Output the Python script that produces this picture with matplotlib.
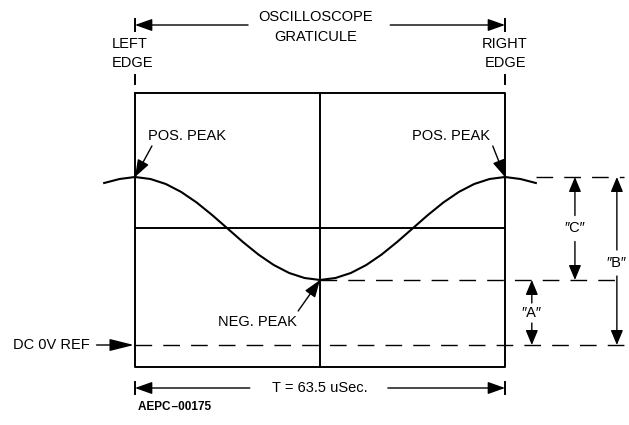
import matplotlib
matplotlib.use("Agg")
import matplotlib.pyplot as plt

plt.rcParams["font.family"] = ["Liberation Sans", "DejaVu Sans"]

# ---- data (time in uSec, level in volts-ish units above DC 0V ref) ----
period_us = 63.5
v_dc_ref = 0.0
v_neg_peak = 1.30   # "A"
v_pos_peak = 3.36   # "B"
grat_top = 5.04
grat_bottom = -0.44
grat_mid = 2.34

# waveform samples
times = [-5.29, -2.65, 0.0, 2.65, 5.29, 7.94, 10.58, 13.23, 15.88, 18.52, 21.17,
         23.81, 26.46, 29.10, 31.75, 34.40, 37.04, 39.69, 42.33, 44.98, 47.63,
         50.27, 52.92, 55.56, 58.21, 60.85, 63.5, 66.15, 68.79]
volts = [3.24, 3.32, 3.36, 3.32, 3.22, 3.06, 2.85, 2.60, 2.33, 2.06, 1.81,
         1.60, 1.44, 1.34, 1.30, 1.34, 1.44, 1.60, 1.81, 2.06, 2.33,
         2.60, 2.85, 3.06, 3.22, 3.32, 3.36, 3.32, 3.24]

fig = plt.figure(figsize=(6.29, 4.25), dpi=100)
ax = fig.add_axes([0, 0, 1, 1])
ax.set_xlim(-23.17, 84.78)
ax.set_ylim(-1.6, 6.9)
ax.axis("off")

K = "black"
FS = 10.5

# graticule box + center lines
t_left, t_mid, t_right = 0.0, period_us / 2, period_us
ax.plot([t_left, t_right, t_right, t_left, t_left],
        [grat_top, grat_top, grat_bottom, grat_bottom, grat_top], color=K, lw=1.4)
ax.plot([t_mid, t_mid], [grat_bottom, grat_top], color=K, lw=1.4)
ax.plot([t_left, t_right], [grat_mid, grat_mid], color=K, lw=1.4)

# trace
ax.plot(times, volts, color=K, lw=1.5)

# dashed reference lines
dash = dict(color=K, lw=1.0, dashes=(12, 8))
t_dash_end = 84.0
ax.plot([times[-1], t_dash_end], [v_pos_peak, v_pos_peak], **dash)
ax.plot([t_mid, t_dash_end], [v_neg_peak, v_neg_peak], **dash)
ax.plot([t_left, t_dash_end], [v_dc_ref, v_dc_ref], **dash)


def arrow(x0, y0, x1, y1, hl=0.7, hw=0.25):
    ax.annotate("", xy=(x1, y1), xytext=(x0, y0),
                arrowprops=dict(arrowstyle="-|>,head_length=%s,head_width=%s" % (hl, hw),
                                color=K, lw=1.0, shrinkA=0, shrinkB=0,
                                mutation_scale=15))


def dimension(x, lo, hi, label, y_label, gap=0.26):
    arrow(x, y_label + gap, x, hi, 0.6, 0.25)
    arrow(x, y_label - gap, x, lo, 0.6, 0.25)
    ax.text(x, y_label, label, ha="center", va="center", fontsize=FS)


# dimension arrows A, B, C
dimension(75.5, v_neg_peak, v_pos_peak, "\u2033C\u2033", (v_neg_peak + v_pos_peak) / 2)
dimension(68.1, v_dc_ref, v_neg_peak, "\u2033A\u2033", 0.64, gap=0.2)
dimension(82.7, v_dc_ref, v_pos_peak, "\u2033B\u2033", 1.64)

# top graticule label
ax.text(30.9, 6.56, "OSCILLOSCOPE", ha="center", va="center", fontsize=FS)
ax.text(31.0, 6.16, "GRATICULE", ha="center", va="center", fontsize=FS)
arrow(19.4, 6.4, t_left, 6.4)
arrow(43.8, 6.4, t_right, 6.4)
ax.plot([t_left, t_left], [6.28, 6.52], color=K, lw=1.4)
ax.plot([t_right, t_right], [6.28, 6.52], color=K, lw=1.4)

ax.text(-3.95, 6.02, "LEFT", ha="left", va="center", fontsize=FS)
ax.text(-3.95, 5.64, "EDGE", ha="left", va="center", fontsize=FS)
ax.plot([t_left, t_left], [5.22, 5.40], color=K, lw=1.4)
ax.text(67.3, 6.02, "RIGHT", ha="right", va="center", fontsize=FS)
ax.text(67.1, 5.64, "EDGE", ha="right", va="center", fontsize=FS)
ax.plot([t_right, t_right], [5.22, 5.40], color=K, lw=1.4)

# peak callouts
ax.text(2.2, 4.18, "POS. PEAK", ha="left", va="center", fontsize=FS)
arrow(2.9, 3.98, t_left, v_pos_peak)
ax.text(47.5, 4.18, "POS. PEAK", ha="left", va="center", fontsize=FS)
arrow(61.4, 3.98, t_right, v_pos_peak)
ax.text(14.2, 0.46, "NEG. PEAK", ha="left", va="center", fontsize=FS)
arrow(28.0, 0.68, t_mid, v_neg_peak)

# DC ref
ax.text(-20.9, v_dc_ref, "DC 0V REF", ha="left", va="center", fontsize=FS)
arrow(-6.6, v_dc_ref, -0.2, v_dc_ref, 1.0, 0.25)

# period
y_t = -0.86
arrow(19.7, y_t, t_left, y_t)
arrow(43.4, y_t, t_right, y_t)
ax.plot([t_left, t_left], [y_t - 0.12, y_t + 0.12], color=K, lw=1.4)
ax.plot([t_right, t_right], [y_t - 0.12, y_t + 0.12], color=K, lw=1.4)
ax.text(t_mid, y_t, "T = %.1f uSec." % period_us, ha="center", va="center", fontsize=FS)

ax.text(0.5, -1.24, "AEPC\u200a\u201300175", ha="left", va="center", fontsize=8.5,
        fontweight="bold")

fig.savefig("out.png", dpi=100)
